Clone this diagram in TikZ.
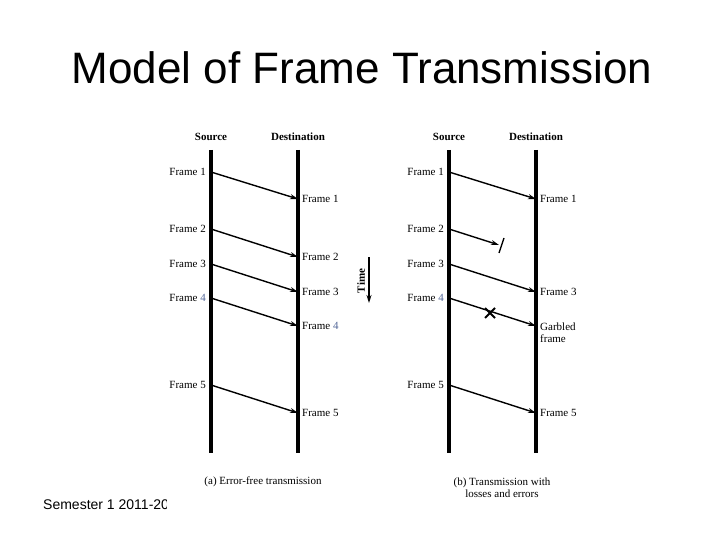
\documentclass[tikz,border=0pt]{standalone}
\usepackage{fontspec}
\setmainfont{Liberation Serif}
\newfontfamily\arialfont{Liberation Sans}
\usetikzlibrary{arrows.meta,calc}
\definecolor{fourblue}{RGB}{80,100,150}
\begin{document}
\begin{tikzpicture}[x=1pt,y=-1pt,
  lbl/.style={font=\fontsize{11}{12}\selectfont, inner sep=0pt},
  hdr/.style={font=\fontsize{11}{12}\selectfont\bfseries, inner sep=0pt},
  life/.style={line width=3.3pt},
  msg/.style={line width=1.4pt, -{Stealth[length=8pt,width=5pt]}},
  ttl/.style={font=\arialfont\fontsize{44}{50}\selectfont, inner sep=0pt, anchor=base},
]
\useasboundingbox (0,0) rectangle (720,540);
\fill[white] (0,0) rectangle (720,540);

% title
\node[ttl] (title) at (362,84) {Model of Frame Transmission};

% footer (clipped)
\begin{scope}
\clip (0,480) rectangle (166.5,540);
\node[font=\arialfont\fontsize{14}{16}\selectfont, inner sep=0pt, anchor=base west] (foot) at (43,509) {Semester 1 2011-2012};
\end{scope}

% ---------- (a) ----------
\coordinate (aSt) at (211,150); \coordinate (aSb) at (211,453);
\coordinate (aDt) at (298,150); \coordinate (aDb) at (298,453);
\draw[life] (aSt) -- (aSb);
\draw[life] (aDt) -- (aDb);
\node[hdr] (aSrc) at (211,137) {Source};
\node[hdr] (aDst) at (298,137) {Destination};

\foreach \n/\ys/\yd in {1/172/199, 2/229/257, 3/264/292, 5/385/413}{
  \coordinate (as\n) at (211,\ys);
  \coordinate (ad\n) at (298,\yd);
  \node[lbl, anchor=east] (asl\n) at (206,\ys) {Frame \n};
  \node[lbl, anchor=west] (adl\n) at (302,\yd) {Frame \n};
  \draw[msg] (as\n) -- (ad\n);
}
\coordinate (as4) at (211,298); \coordinate (ad4) at (298,326);
\node[lbl, anchor=east] (asl4) at (206,298) {Frame \textcolor{fourblue}{4}};
\node[lbl, anchor=west] (adl4) at (302,326) {Frame \textcolor{fourblue}{4}};
\draw[msg] (as4) -- (ad4);

\node[lbl] (capA) at (263,482) {(a) Error-free transmission};

% time arrow
\coordinate (tTop) at (369,257); \coordinate (tBot) at (369,303);
\draw[line width=1.3pt, -{Stealth[length=8pt,width=5pt]}] (tTop) -- (tBot);
\node[hdr, rotate=90] (time) at (361,281) {Time};

% ---------- (b) ----------
\coordinate (bSt) at (449,150); \coordinate (bSb) at (449,453);
\coordinate (bDt) at (536,150); \coordinate (bDb) at (536,453);
\draw[life] (bSt) -- (bSb);
\draw[life] (bDt) -- (bDb);
\node[hdr] (bSrc) at (449,137) {Source};
\node[hdr] (bDst) at (536,137) {Destination};

\foreach \n/\ys in {1/172, 2/229, 3/264, 5/385}{
  \coordinate (bs\n) at (449,\ys);
  \node[lbl, anchor=east] (bsl\n) at (444,\ys) {Frame \n};
}
\coordinate (bs4) at (449,298);
\node[lbl, anchor=east] (bsl4) at (444,298) {Frame \textcolor{fourblue}{4}};

\coordinate (bd1) at (536,199);
\coordinate (bd3) at (536,292);
\coordinate (bd4) at (536,326);
\coordinate (bd5) at (536,413);
\node[lbl, anchor=west] (bdl1) at (540,199) {Frame 1};
\node[lbl, anchor=west] (bdl3) at (540,292) {Frame 3};
\node[lbl, anchor=west, align=left] (bdl4) at (540,333) {Garbled\\frame};
\node[lbl, anchor=west] (bdl5) at (540,413) {Frame 5};

\draw[msg] (bs1) -- (bd1);
\coordinate (lost) at (499,245);
\draw[msg] (bs2) -- (lost);
\coordinate (tickA) at (499,253); \coordinate (tickB) at (504,238);
\draw[line width=1.3pt] (tickA) -- (tickB);
\draw[msg] (bs3) -- (bd3);
\draw[msg] (bs4) -- (bd4);
\coordinate (xc) at (490,313);
\coordinate (xa) at ($(xc)+(-5,-5)$); \coordinate (xb) at ($(xc)+(5,5)$);
\coordinate (xd) at ($(xc)+(-5,5)$); \coordinate (xe) at ($(xc)+(5,-5)$);
\draw[line width=1.9pt] (xa) -- (xb) (xd) -- (xe);
\draw[msg] (bs5) -- (bd5);

\node[lbl, align=center] (capB) at (502,488) {(b) Transmission with\\losses and errors};
\end{tikzpicture}
\end{document}
